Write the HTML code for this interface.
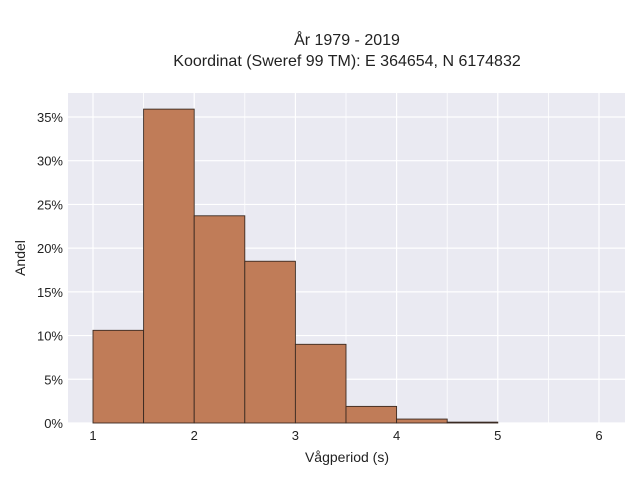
<!DOCTYPE html>
<html><head><meta charset="utf-8"><style>
body{margin:0;background:#fff;}
svg{display:block;font-family:"Liberation Sans",sans-serif;}
</style></head><body>
<svg id="c" width="640" height="480">
<text x="347" y="45" text-anchor="middle" font-size="16" fill="#222">År 1979 - 2019</text>
<text x="347" y="66" text-anchor="middle" font-size="16" fill="#222">Koordinat (Sweref 99 TM): E 364654, N 6174832</text>
<rect x="68" y="93" width="557" height="330" fill="#eaeaf2"/>
<g id="grid"></g><g id="bars"></g><g id="ticks"></g>
<text x="347" y="462" text-anchor="middle" font-size="14" fill="#222">Vågperiod (s)</text>
<text transform="translate(25,258) rotate(-90)" text-anchor="middle" font-size="14" fill="#222">Andel</text>
</svg>
<script>
const binStarts=[1,1.5,2,2.5,3,3.5,4,4.5];
const binWidth=0.5;
const shares=[10.6,35.9,23.7,18.5,9.0,1.9,0.45,0.1];
const xTicks=[1,2,3,4,5,6];
const yTicks=[0,5,10,15,20,25,30,35];
const NS="http://www.w3.org/2000/svg";
const x=v=>93+(v-1)*101.2;
const y=v=>423-v*8.743;
function mk(t,a,p){const e=document.createElementNS(NS,t);for(const k in a)e.setAttribute(k,a[k]);p.appendChild(e);return e;}
const g=document.getElementById('grid'),b=document.getElementById('bars'),tk=document.getElementById('ticks');
for(let v=0.5;v<=6.5;v+=0.5){const px=x(v);if(px<68||px>625)continue;
const l=mk('line',{x1:px,x2:px,y1:93,y2:423,stroke:'#fff','stroke-width':Number.isInteger(v)?1.2:0.8},g);

}
yTicks.forEach(v=>{const l=mk('line',{x1:68,x2:625,y1:y(v),y2:y(v),stroke:'#fff','stroke-width':1.2},g);


const t=mk('text',{x:63,y:y(v)+5,'text-anchor':'end','font-size':13,fill:'#222'},tk);t.textContent=v+'%';

});
xTicks.forEach(v=>{const t=mk('text',{x:x(v),y:440,'text-anchor':'middle','font-size':13,fill:'#222'},tk);t.textContent=v;

});
binStarts.forEach((s,i)=>{const r=mk('rect',{x:x(s),y:y(shares[i]),width:x(s+binWidth)-x(s),height:423-y(shares[i]),fill:'#c07c58',stroke:'#3a2a22','stroke-width':0.9},b);

});
</script>
</body></html>
